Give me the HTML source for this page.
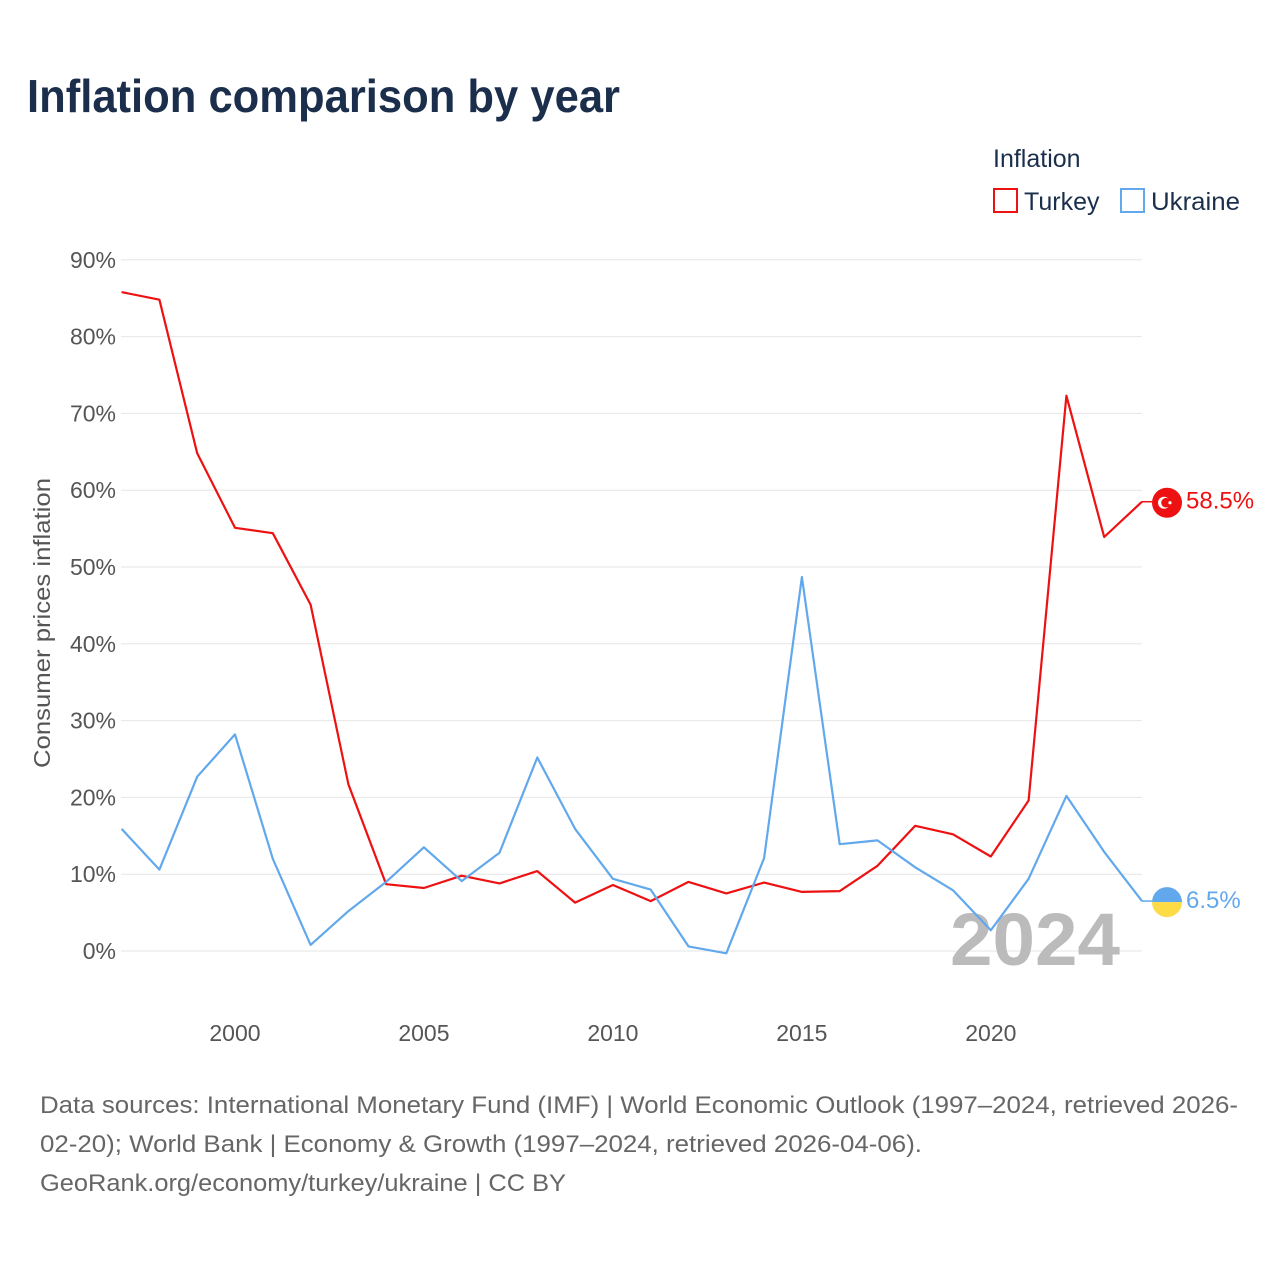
<!DOCTYPE html>
<html><head><meta charset="utf-8">
<style>
body{margin:0;background:#fff;font-family:"Liberation Sans",sans-serif;}
#wrap{position:relative;width:1280px;height:1280px;overflow:hidden;}
</style></head>
<body>
<div id="wrap">
<svg id="chart" width="1280" height="1280" xmlns="http://www.w3.org/2000/svg">
<text x="27" y="112" font-size="46" font-weight="bold" fill="#1b2f4c" textLength="593" lengthAdjust="spacingAndGlyphs">Inflation comparison by year</text>
<text x="993" y="167" font-size="25" fill="#1b2f4c">Inflation</text>
<g><rect x="994" y="189" width="23" height="23" fill="none" stroke="#ee1111" stroke-width="2"/><text x="1024" y="210" font-size="25" fill="#1b2f4c">Turkey</text></g>
<g><rect x="1121" y="189" width="23" height="23" fill="none" stroke="#62a8ec" stroke-width="2"/><text x="1151" y="210" font-size="25" fill="#1b2f4c" textLength="89" lengthAdjust="spacingAndGlyphs">Ukraine</text></g>
<text transform="translate(50,623) rotate(-90)" text-anchor="middle" font-size="23" fill="#555" textLength="290" lengthAdjust="spacingAndGlyphs">Consumer prices inflation</text>
<g id="grid"></g><g id="yticks"></g><g id="xticks"></g>
<text x="1120" y="965" text-anchor="end" font-size="74" font-weight="bold" fill="#bbb" textLength="170" lengthAdjust="spacingAndGlyphs">2024</text>
<g id="series"></g>
<text x="40" y="1113" font-size="24" fill="#666" textLength="1198" lengthAdjust="spacingAndGlyphs">Data sources: International Monetary Fund (IMF) | World Economic Outlook (1997–2024, retrieved 2026-</text>
<text x="40" y="1152" font-size="24" fill="#666" textLength="882" lengthAdjust="spacingAndGlyphs">02-20); World Bank | Economy &amp; Growth (1997–2024, retrieved 2026-04-06).</text>
<text x="40" y="1191" font-size="24" fill="#666" textLength="526" lengthAdjust="spacingAndGlyphs">GeoRank.org/economy/turkey/ukraine | CC BY</text>
</svg>
</div>
<script>
const years=[1997,1998,1999,2000,2001,2002,2003,2004,2005,2006,2007,2008,2009,2010,2011,2012,2013,2014,2015,2016,2017,2018,2019,2020,2021,2022,2023,2024];
const turkey=[85.8,84.8,64.8,55.1,54.4,45.1,21.7,8.7,8.2,9.8,8.8,10.4,6.3,8.6,6.5,9.0,7.5,8.9,7.7,7.8,11.1,16.3,15.2,12.3,19.6,72.3,53.9,58.5];
const ukraine=[15.9,10.6,22.7,28.2,12.0,0.8,5.2,9.0,13.5,9.1,12.8,25.2,15.9,9.4,8.0,0.6,-0.3,12.1,48.7,13.9,14.4,10.9,7.9,2.7,9.4,20.2,12.9,6.5];
const yTicks=[0,10,20,30,40,50,60,70,80,90];
const xTicks=[2000,2005,2010,2015,2020];
const NS="http://www.w3.org/2000/svg";
const x=v=>121.6+(v-1997)*(1142-121.6)/27;
const y=v=>951-v*7.68;
function mk(tag,attrs,parent){const e=document.createElementNS(NS,tag);for(const k in attrs)e.setAttribute(k,attrs[k]);document.getElementById(parent).appendChild(e);return e;}
yTicks.forEach(t=>{
 const l=mk('line',{x1:121,x2:1142,y1:y(t),y2:y(t),stroke:'#e6e6e6','stroke-width':1},'grid');
 
 
 const tx=mk('text',{x:116,y:y(t)+8,'text-anchor':'end','font-size':23,fill:'#555'},'yticks');
 tx.textContent=t+'%';
 
 
});
xTicks.forEach(t=>{
 const tx=mk('text',{x:x(t),y:1041,'text-anchor':'middle','font-size':23,fill:'#555'},'xticks');
 tx.textContent=t;
 
 
});
function line(vals,color,name){
 const d=vals.map((v,i)=>(i?'L':'M')+x(years[i]).toFixed(1)+','+y(v).toFixed(1)).join('');
 const p=mk('path',{d:d,fill:'none',stroke:color,'stroke-width':2.2,'stroke-linejoin':'round'},'series');
 
 
}
line(turkey,'#ee1111','turkey-line');
line(ukraine,'#62a8ec','ukraine-line');
const tl=turkey[turkey.length-1], ul=ukraine[ukraine.length-1];
const lx=x(2024);
mk('line',{x1:lx,x2:lx+10,y1:y(tl),y2:y(tl),stroke:'#ee1111','stroke-width':1.5},'series');
mk('line',{x1:lx,x2:lx+10,y1:y(ul),y2:y(ul),stroke:'#62a8ec','stroke-width':1.5},'series');
const tf=mk('g',{},'series');


const cy1=y(tl)+1;
tf.innerHTML=`<circle cx="1167" cy="${cy1}" r="15" fill="#ee1111"/><circle cx="1164" cy="${cy1}" r="6" fill="#fff"/><circle cx="1166" cy="${cy1}" r="4.8" fill="#ee1111"/><circle cx="1170" cy="${cy1}" r="1.6" fill="#fff"/>`;
const uf=mk('g',{},'series');


const cy2=y(ul)+1;
uf.innerHTML=`<path d="M1152,${cy2} a15,15 0 0 1 30,0 z" fill="#62a8ec"/><path d="M1152,${cy2} a15,15 0 0 0 30,0 z" fill="#fddb44"/>`;
const t1=mk('text',{x:1186,y:y(tl)+7,'font-size':24,fill:'#ee1111'},'series');
t1.textContent=tl.toFixed(1)+'%';


const t2=mk('text',{x:1186,y:y(ul)+7,'font-size':24,fill:'#62a8ec'},'series');
t2.textContent=ul.toFixed(1)+'%';


</script>
</body></html>
